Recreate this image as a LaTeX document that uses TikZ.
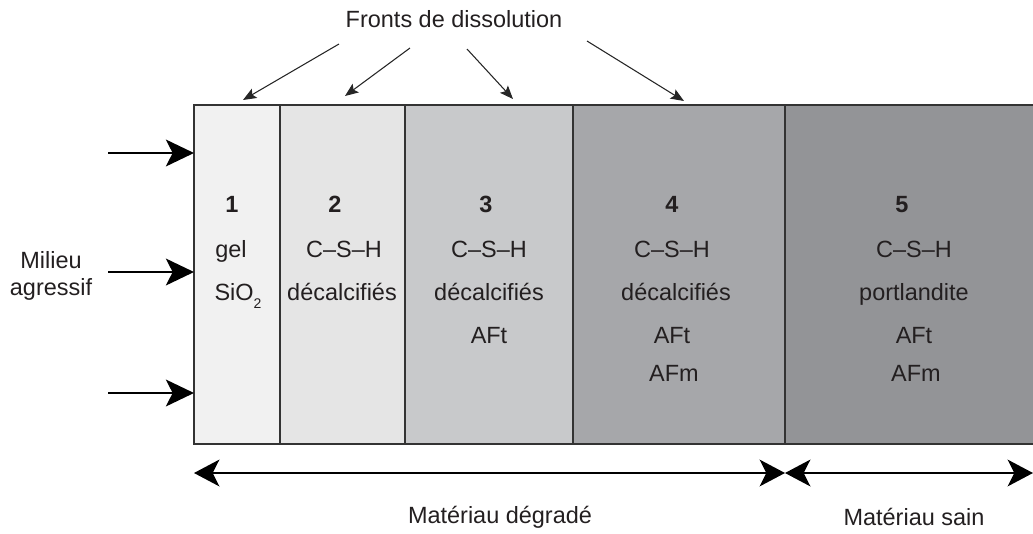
\documentclass[tikz,border=0pt]{standalone}
\usepackage{fontspec}
\setmainfont{Liberation Sans}
\usetikzlibrary{arrows.meta}
\definecolor{txt}{HTML}{231F20}
\definecolor{edge}{HTML}{333333}
\definecolor{cA}{HTML}{F1F1F1}
\definecolor{cB}{HTML}{E5E5E5}
\definecolor{cC}{HTML}{C8C9CB}
\definecolor{cD}{HTML}{A6A7AA}
\definecolor{cE}{HTML}{939497}
\tikzset{
  zone/.style={inner sep=0pt, outer sep=0pt, draw=none, anchor=north west},
  lbl/.style={anchor=base, inner sep=0pt, text=txt, font=\fontsize{17.6}{20}\selectfont},
  num/.style={lbl, font=\fontsize{17.6}{20}\selectfont\bfseries},
  border/.style={draw=edge, line width=1.2pt},
  inarrow/.style={line width=2.2pt, -{Stealth[length=21pt, width=20pt, inset=5pt]}},
  frontarrow/.style={draw=black!85, line width=0.8pt, -{Stealth[length=10pt, width=8pt, inset=2pt]}},
  spanarrow/.style={line width=1.9pt, {Stealth[length=19pt, width=20pt, inset=5pt]}-{Stealth[length=19pt, width=20pt, inset=5pt]}}
}
\begin{document}
\begin{tikzpicture}[x=0.75pt, y=-0.75pt]
\useasboundingbox (0,0) rectangle (1033,533);
% zones
\node[zone, fill=cA, minimum width=86*0.75pt, minimum height=339*0.75pt] (z1) at (194,105) {};
\node[zone, fill=cB, minimum width=125*0.75pt, minimum height=339*0.75pt] (z2) at (280,105) {};
\node[zone, fill=cC, minimum width=168*0.75pt, minimum height=339*0.75pt] (z3) at (405,105) {};
\node[zone, fill=cD, minimum width=212*0.75pt, minimum height=339*0.75pt] (z4) at (573,105) {};
\node[zone, fill=cE, minimum width=250*0.75pt, minimum height=339*0.75pt] (z5) at (785,105) {};
% borders
\draw[border] (z5.north east) -- (z1.north west) -- (z1.south west) -- (z5.south east);
\draw[border] (z2.north west) -- (z2.south west);
\draw[border] (z3.north west) -- (z3.south west);
\draw[border] (z4.north west) -- (z4.south west);
\draw[border] (z5.north west) -- (z5.south west);
% zone 1
\node[num] (n1) at (232,212) {1};
\node[lbl] (t1a) at (231,257) {gel};
\node[lbl] (t1b) at (238,300) {SiO\raisebox{-6pt}{\fontsize{10.5}{12}\selectfont 2}};
% zone 2
\node[num] (n2) at (335,212) {2};
\node[lbl] (t2a) at (344,257) {C–S–H};
\node[lbl] (t2b) at (342,300) {décalcifiés};
% zone 3
\node[num] (n3) at (486,212) {3};
\node[lbl] (t3a) at (489,257) {C–S–H};
\node[lbl] (t3b) at (489,300) {décalcifiés};
\node[lbl] (t3c) at (489,343) {AFt};
% zone 4
\node[num] (n4) at (672,212) {4};
\node[lbl] (t4a) at (672,257) {C–S–H};
\node[lbl] (t4b) at (676,300) {décalcifiés};
\node[lbl] (t4c) at (672,343) {AFt};
\node[lbl] (t4d) at (674,381) {AFm};
% zone 5
\node[num] (n5) at (902,212) {5};
\node[lbl] (t5a) at (914,257) {C–S–H};
\node[lbl] (t5b) at (914,300) {portlandite};
\node[lbl] (t5c) at (914,343) {AFt};
\node[lbl] (t5d) at (916,381) {AFm};
% left side
\node[lbl] (mil1) at (51,268) {Milieu};
\node[lbl] (mil2) at (51,295) {agressif};
\coordinate (a1s) at (108,153);
\coordinate (a2s) at (108,272);
\coordinate (a3s) at (108,393);
\draw[inarrow] (a1s) -- (a1s -| z1.west);
\draw[inarrow] (a2s) -- (a2s -| z1.west);
\draw[inarrow] (a3s) -- (a3s -| z1.west);
% fronts
\node[lbl] (fronts) at (454,27) {Fronts de dissolution};
\coordinate (f1s) at (339,44);
\coordinate (f1e) at (243,100);
\coordinate (f2s) at (410,48);
\coordinate (f2e) at (345,96);
\coordinate (f3s) at (467,49);
\coordinate (f3e) at (513,99);
\coordinate (f4s) at (587,41);
\coordinate (f4e) at (684,101);
\draw[frontarrow] (f1s) -- (f1e);
\draw[frontarrow] (f2s) -- (f2e);
\draw[frontarrow] (f3s) -- (f3e);
\draw[frontarrow] (f4s) -- (f4e);
% bottom spans
\coordinate (b0) at (194,473);
\coordinate (b1) at (785,473);
\coordinate (b2) at (1033,473);
\draw[spanarrow] (b0) -- (b1);
\draw[spanarrow] (b1) -- (b2);
\node[lbl] (deg) at (500,523) {Matériau dégradé};
\node[lbl] (sain) at (914,525) {Matériau sain};
\end{tikzpicture}
\end{document}
